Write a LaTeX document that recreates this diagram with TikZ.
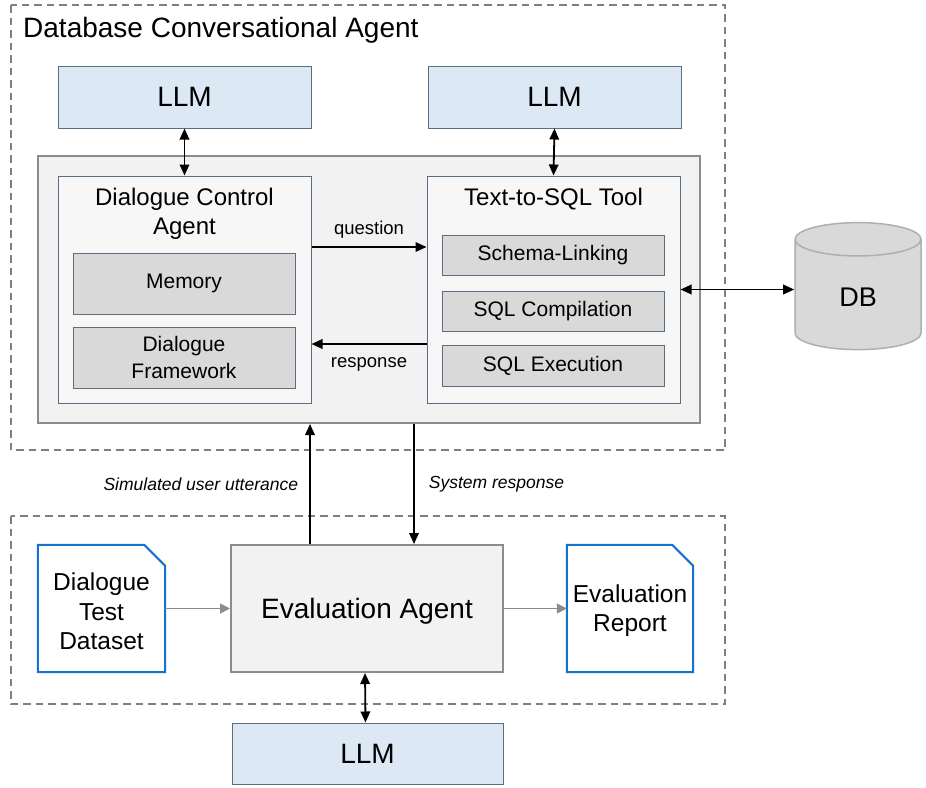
\documentclass[tikz,border=0pt]{standalone}
\usepackage{fontspec}
\setmainfont{Liberation Sans}
\usepackage{tikz}
\usetikzlibrary{arrows.meta,positioning,shapes.geometric}

\definecolor{llmblue}{HTML}{DCE8F4}
\definecolor{edgeblue}{HTML}{5B6D80}
\definecolor{panelgray}{HTML}{F2F2F2}
\definecolor{panelline}{HTML}{8C8C8C}
\definecolor{modgray}{HTML}{D9D9D9}
\definecolor{docblue}{HTML}{1573CC}
\definecolor{dashgray}{HTML}{7F7F7F}

\begin{document}
\begin{tikzpicture}[
x=1pt, y=-1pt,
>={Triangle[length=11pt,width=9.5pt]},
llm/.style={draw=edgeblue, fill=llmblue, line width=1pt, inner sep=0pt,
  minimum width=253pt, minimum height=62pt, font=\fontsize{28}{33}\selectfont},
panel/.style={draw=panelline, fill=panelgray, line width=2pt, inner sep=0pt},
inner/.style={draw=edgeblue, fill=panelgray!60!white, line width=1pt, inner sep=0pt,
  minimum width=253pt, minimum height=227pt},
boxtitle/.style={anchor=north, inner sep=0pt, align=center, font=\fontsize{24}{29}\selectfont},
module/.style={draw=edgeblue, fill=modgray, line width=1pt, inner sep=0pt, align=center,
  minimum width=222pt, font=\fontsize{21}{26.5}\selectfont},
doc/.style={inner sep=0pt, align=center, minimum width=127pt, minimum height=127pt,
  font=\fontsize{24.5}{29.5}\selectfont},
docline/.style={draw=docblue, fill=white, line width=2pt, line join=miter},
group/.style={draw=dashgray, line width=1.5pt, dash pattern=on 7.5pt off 5pt},
flow/.style={->, line width=1.8pt},
twoway/.style={<->, line width=1.8pt},
feed/.style={->, draw=panelline, line width=1.6pt, >={Triangle[length=10pt,width=10pt]}},
tag/.style={inner sep=0pt, font=\fontsize{18.5}{22}\selectfont},
said/.style={inner sep=0pt, font=\fontsize{17.5}{21}\selectfont\itshape}]
    \useasboundingbox (0,0) rectangle (926,787);

    % Dashed group frames
    \draw[group] (11,5) rectangle (725,450);
    \draw[group] (11,516) rectangle (725,704);
    \node[anchor=base west, inner sep=0pt, font=\fontsize{28}{33}\selectfont] (title) at (23,37) {Database Conversational Agent};

    % Top language models
    \node[llm] (llmA) at (184.5,97) {LLM};
    \node[llm] (llmB) at (554.5,97) {LLM};

    % Agent panel and its two parts
    \node[panel, minimum width=662pt, minimum height=267pt] (agent) at (369,289.5) {};
    \node[inner] (dca) at (184.5,289.5) {};
    \node[boxtitle] (dcatitle) at ([yshift=-12pt]dca.north) {Dialogue Control\\Agent};
    \node[module, minimum height=61pt] (memory) at (184,283.5) {Memory};
    \node[module, minimum height=61pt] (framework) at (184,357.5) {Dialogue\\Framework};

    \node[inner] (sqltool) at (553.5,289.5) {};
    \node[boxtitle] (sqltitle) at ([yshift=-12pt]sqltool.north) {Text-to-SQL Tool};
    \node[module, minimum height=40pt] (schema) at (553,255) {Schema-Linking};
    \node[module, minimum height=40pt] (compile) at (553,311) {SQL Compilation};
    \node[module, minimum height=41pt] (execute) at (553,365.5) {SQL Execution};

    % Database
    \node[cylinder, shape border rotate=90, aspect=5, draw=panelline!70!white, fill=modgray,
      line width=1.5pt, minimum width=126pt, minimum height=127pt] (db) at (858,297.5) {};
    \node[inner sep=0pt, font=\fontsize{27}{32}\selectfont] (dbtext) at (db.center) {DB};

    \draw[twoway] (llmA.south) -- (dca.north);
    \draw[twoway] (llmB.south) -- (sqltool.north);
    \draw[flow] ([yshift=42.5pt]dca.east) -- ([yshift=42.5pt]sqltool.west)
        node[midway, above=8pt, tag] {question};
    \draw[flow] ([yshift=-54.5pt]sqltool.west) -- ([yshift=-54.5pt]dca.east)
        node[midway, below=13pt, tag] {response};
    \draw[twoway] (sqltool.east) -- (sqltool.east -| db.west);

    % Evaluation side
    \node[panel, minimum width=272pt, minimum height=127pt] (eval) at (367,608.5) {};
    \node[inner sep=0pt, font=\fontsize{28}{33}\selectfont] (evaltext) at ([yshift=-3pt]eval.center) {Evaluation Agent};
    \node[doc] (dataset) at (101.5,608.5) {};
    \draw[docline] (dataset.south west) -- (dataset.north west) -- ([xshift=-21pt]dataset.north east)
        -- ([yshift=-21pt]dataset.north east) -- (dataset.south east) -- cycle;
    \node[doc] (datasettext) at ([yshift=-3pt]dataset.center) {Dialogue\\Test\\Dataset};
    \node[doc, minimum width=126pt] (report) at (630,608.5) {};
    \draw[docline] (report.south west) -- (report.north west) -- ([xshift=-21pt]report.north east)
        -- ([yshift=-21pt]report.north east) -- (report.south east) -- cycle;
    \node[doc] (reporttext) at ([yshift=-2pt]report.center) {Evaluation\\Report};
    \node[llm, minimum width=271pt, minimum height=61pt] (llmC) at (367.5,753.5) {LLM};

    \draw[feed] (dataset.east) -- (eval.west);
    \draw[feed] (eval.east) -- (report.west);
    \draw[twoway] ([xshift=-2pt]eval.south) -- ([xshift=-2pt]llmC.north);

    % Messages between the two agents
    \draw[flow] ([xshift=-57pt]eval.north) -- ([xshift=-57pt]eval.north |- agent.south)
        node[midway, left=11pt, said] {Simulated user utterance};
    \draw[flow] ([xshift=47pt]eval.north |- agent.south) -- ([xshift=47pt]eval.north)
        node[midway, right=14pt, said] {System response};
\end{tikzpicture}
\end{document}
